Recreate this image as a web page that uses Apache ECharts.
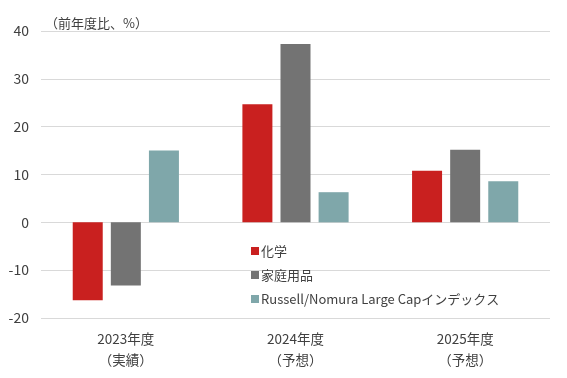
<!DOCTYPE html>
<html><head><meta charset="utf-8">
<script src="https://cdn.jsdelivr.net/npm/echarts@6/dist/echarts.min.js"></script>
<style>html,body{margin:0;padding:0;background:#fff}#c{width:567px;height:378px}</style>
</head><body><div id="c"></div>
<script>
const categories = ['2023年度\n（実績）', '2024年度\n（予想）', '2025年度\n（予想）'];
const seriesNames = ['化学', '家庭用品', 'Russell/Nomura Large Capインデックス'];
const chemical = [-16.3, 24.7, 10.8];
const household = [-13.2, 37.3, 15.2];
const russell = [15.0, 6.3, 8.6];
const yTicks = { min: -20, max: 40, interval: 10 };
const colors = ['#C9201F', '#737373', '#7FA7AA'];
const font = '"Noto Sans CJK JP", "Noto Sans", sans-serif';

const chart = echarts.init(document.getElementById('c'), null, { renderer: 'canvas' });
const seriesData = [chemical, household, russell];
chart.setOption({
  animation: false,
  textStyle: { fontFamily: font },
  title: {
    text: '（前年度比、%）', left: 40, top: 12,
    textStyle: { fontSize: 13, fontWeight: 'normal', color: '#404040', fontFamily: font }
  },
  legend: {
    orient: 'vertical', left: 246, top: 238,
    itemWidth: 8, itemHeight: 8, itemGap: 8,
    icon: 'rect',
    textStyle: { fontSize: 13, color: '#404040', lineHeight: 16, fontFamily: font, padding: [0, 0, 0, -3] },
    data: seriesNames
  },
  grid: { left: 41, right: 17, top: 31, bottom: 60, containLabel: false },
  xAxis: {
    type: 'category', data: categories,
    axisLine: { show: false }, axisTick: { show: false },
    axisLabel: { margin: 10, fontSize: 13.5, color: '#404040', lineHeight: 21, fontFamily: font }
  },
  yAxis: {
    type: 'value', min: yTicks.min, max: yTicks.max, interval: yTicks.interval,
    axisLine: { show: false }, axisTick: { show: false },
    axisLabel: { fontSize: 14, color: '#404040', margin: 12, fontFamily: font },
    splitLine: { lineStyle: { color: '#D9D9D9', width: 1 } }
  },
  series: seriesNames.map((n, i) => ({
    name: n, type: 'bar', data: seriesData[i],
    barWidth: 30, barGap: '27%',
    itemStyle: { color: colors[i] }
  }))
});
</script></body></html>
